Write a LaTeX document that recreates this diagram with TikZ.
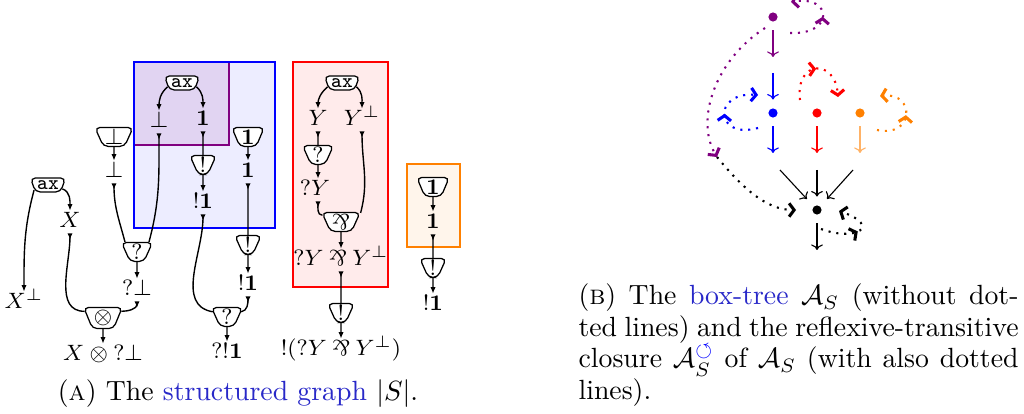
\documentclass[tikz,border=0pt]{standalone}
\usepackage{amsmath,amssymb}
\usepackage{graphicx}
\usetikzlibrary{arrows.meta,shapes.geometric,decorations.markings}
\definecolor{mypurple}{RGB}{128,0,128}
\definecolor{linkblue}{RGB}{40,40,200}
\newcommand{\myparr}{\mathbin{\rotatebox[origin=c]{180}{$\&$}}}
\begin{document}
\begin{tikzpicture}[x=0.36pt,y=-0.36pt,
  lab/.style={inner sep=0.5pt, font=\fontsize{7.9}{9}\selectfont, text height=5.5pt, text depth=1.3pt},
  gate/.style={trapezium, shape border rotate=180, trapezium left angle=65, trapezium right angle=65,
    trapezium stretches=true, draw, fill=white, line width=0.45pt, rounded corners=1.7pt,
    inner sep=0.5pt, minimum width=9.4pt, minimum height=6.8pt, font=\fontsize{7.9}{9}\selectfont},
  axg/.style={gate, minimum width=12.6pt, minimum height=5pt, inner ysep=0.2pt, font=\fontsize{7.3}{8}\ttfamily},
  wire/.style={line width=0.5pt},
  tolab/.style={wire, -{Latex[length=2.3pt,width=1.9pt]}},
  fromlab/.style={wire, {Latex[reversed,length=2.3pt,width=1.9pt]}-},
  bx/.style={line width=0.6pt},
  tdot/.style={circle, inner sep=0pt, minimum size=3.3pt},
  tarr/.style={line width=0.4pt, -{To[length=2pt,width=4.2pt]}},
  dotarr/.style={line width=0.75pt, dash pattern=on 0.75pt off 2.1pt, -{Straight Barb[length=1.8pt,width=4.8pt,line width=1.1pt]}},
  midarr/.style={postaction={decorate}, decoration={markings, mark=at position #1 with {\arrow{Straight Barb[length=1.8pt,width=4.8pt,line width=1.1pt]}}}}
]
\useasboundingbox (0,0) rectangle (1024,414);

% ---------- boxes ----------
\fill[blue!7] (134,62) rectangle (275,228);
\fill[mypurple, fill opacity=0.1] (134,62) rectangle (229,145);
\draw[bx, mypurple] (134,62) rectangle (229,145);
\draw[bx, blue] (134,62) rectangle (275,228);
\draw[bx, red, fill=red!8] (293,62) rectangle (388,287);
\draw[bx, orange, fill=orange!8] (407,164) rectangle (460,247);

% ---------- gates ----------
\node[axg] (ax1) at (48,185) {ax};
\node[axg] (ax2) at (182,83) {ax};
\node[axg] (ax3) at (342,83) {ax};
\node[gate] (botg) at (114,137) {${\perp}$};
\node[gate] (oneg1) at (248,137) {$\mathbf{1}$};
\node[gate] (bang1) at (203,165) {$!$};
\node[gate] (bang2) at (248,245) {$!$};
\node[gate] (q1) at (137,252) {$?$};
\node[gate, minimum width=10pt, minimum height=7.6pt] (tens) at (103,318) {$\otimes$};
\node[gate] (q2) at (227,317) {$?$};
\node[gate] (q3) at (318,155) {$?$};
\node[gate] (par) at (341,222) {$\myparr$};
\node[gate] (bang3) at (341,313) {$!$};
\node[gate] (oneg2) at (433,187) {$\mathbf{1}$};
\node[gate] (bang4) at (433,268) {$!$};

% ---------- labels ----------
\node[lab] (Xp) at (24,303) {$X^\perp$};
\node[lab] (lX) at (70,222) {$X$};
\node[lab] (lbot1) at (114,172) {${\perp}$};
\node[lab] (lbot2) at (159,122) {${\perp}$};
\node[lab] (lone2) at (203,120) {$\mathbf{1}$};
\node[lab] (lbang1) at (203,203) {$!\mathbf{1}$};
\node[lab] (lone1) at (248,172) {$\mathbf{1}$};
\node[lab] (lbang2) at (248,285) {$!\mathbf{1}$};
\node[lab] (lqbot) at (137,290) {${?}{\perp}$};
\node[lab] (ltens) at (103,355) {$X\otimes {?}{\perp}$};
\node[lab] (lq2) at (227,353) {$?!\mathbf{1}$};
\node[lab] (lY) at (318,120) {$Y$};
\node[lab] (lYp) at (362,120) {$Y^\perp$};
\node[lab] (lqY) at (315,190) {$?Y$};
\node[lab] (lpar) at (341,260) {$?Y\myparr Y^\perp$};
\node[lab] (lbang3) at (341,350) {$!(?Y\myparr Y^\perp)$};
\node[lab] (lone3) at (433,223) {$\mathbf{1}$};
\node[lab] (lbang4) at (433,305) {$!\mathbf{1}$};

% ---------- wires ----------
\draw[tolab] (ax1.200) to[out=-105,in=90] (Xp.north);
\draw[tolab] (ax1.-15) to[out=-20,in=90] (lX.north);
\draw[tolab] (botg) -- (lbot1);
\draw[tolab] (ax2.195) to[out=-140,in=90] (lbot2.north);
\draw[tolab] (ax2.-15) to[out=-40,in=90] (lone2.north);
\draw[fromlab] (lone2) -- (bang1);
\draw[tolab] (bang1) -- (lbang1);
\draw[tolab] (oneg1) -- (lone1);
\draw[fromlab] (lone1) -- (bang2);
\draw[tolab] (bang2) -- (lbang2);
\draw[fromlab] (lbot1.south) to[out=-90,in=105] (q1.140);
\draw[fromlab] (lbot2.south) to[out=-90,in=75] (q1.40);
\draw[tolab] (q1) -- (lqbot);
\draw[fromlab] (lX.south) to[out=-90,in=180] (tens.160);
\draw[fromlab] (lqbot.south) to[out=-90,in=0] (tens.20);
\draw[tolab] (tens) -- (ltens);
\draw[fromlab] (lbang1.south) to[out=-90,in=170] (q2.160);
\draw[fromlab] (lbang2.south) to[out=-90,in=10] (q2.20);
\draw[tolab] (q2) -- (lq2);
\draw[tolab] (ax3.195) to[out=-140,in=90] (lY.north);
\draw[tolab] (ax3.-15) to[out=-40,in=90] (lYp.north);
\draw[fromlab] (lY) -- (q3);
\draw[tolab] (q3) -- (q3 |- lqY.north);
\draw[fromlab] (q3 |- lqY.south) to[out=-90,in=180] (par.160);
\draw[fromlab] (lYp.south) to[out=-90,in=75] (par.25);
\draw[tolab] (par) -- (lpar);
\draw[fromlab] (lpar) -- (bang3);
\draw[tolab] (bang3) -- (lbang3);
\draw[tolab] (oneg2) -- (lone3);
\draw[fromlab] (lone3) -- (bang4);
\draw[tolab] (bang4) -- (lbang4);

% ---------- caption A ----------
\node[anchor=base, inner sep=0, font=\fontsize{10}{12}\selectfont] (capA) at (238,400)
  {(\textsc{a}) The \textcolor{linkblue}{structured graph} $|S|$.};

% ---------- box tree ----------
\node[tdot, fill=mypurple] (pd) at (773,17) {};
\node[tdot, fill=blue] (bd) at (773,113) {};
\node[tdot, fill=red] (rd) at (817,113) {};
\node[tdot, fill=orange] (od) at (860,113) {};
\node[tdot, fill=black] (kd) at (817,210) {};

\coordinate (pb1) at (773,57);
\coordinate (pb2) at (773,73);
\coordinate (bk1) at (773,153);
\coordinate (bk2) at (780,170);
\coordinate (rk1) at (817,153);
\coordinate (rk2) at (817,170);
\coordinate (ok1) at (860,153);
\coordinate (ok2) at (853,170);
\coordinate (kz) at (817,250);

\draw[tarr, mypurple, shorten <=3pt] (pd) -- (pb1);
\draw[tarr, blue, shorten >=3pt] (pb2) -- (bd);
\draw[tarr, blue, shorten <=3pt] (bd) -- (bk1);
\draw[tarr, red, shorten <=3pt] (rd) -- (rk1);
\draw[tarr, orange!60, shorten <=3pt] (od) -- (ok1);
\draw[tarr, shorten >=3.5pt] (bk2) -- (kd);
\draw[tarr, shorten >=3pt] (rk2) -- (kd);
\draw[tarr, shorten >=3.5pt] (ok2) -- (kd);
\draw[tarr, shorten <=3pt] (kd) -- (kz);

% loops
\coordinate (pl1) at (790,33);
\coordinate (pl2) at (791,2);
\draw[dotarr, mypurple, midarr=0.5] (pl1) .. controls (835,35) and (832,-5) .. (pl2);
\coordinate (bl1) at (758,128);
\coordinate (bl2) at (758,95);
\draw[dotarr, blue, midarr=0.5] (bl1) .. controls (715,140) and (712,92) .. (bl2);
\coordinate (rl1) at (800,100);
\coordinate (rl2) at (838,97);
\draw[dotarr, red, midarr=0.5] (rl1) .. controls (795,60) and (835,58) .. (rl2);
\coordinate (ol1) at (877,130);
\coordinate (ol2) at (880,96);
\draw[dotarr, orange, midarr=0.5] (ol1) .. controls (915,138) and (915,92) .. (ol2);
\coordinate (kl1) at (821,229);
\coordinate (kl2) at (839,211);
\draw[dotarr, black, midarr=0.52] (kl1) .. controls (856,242) and (882,226) .. (kl2);
\coordinate (pa1) at (765,28);
\coordinate (pa2) at (717,157);
\coordinate (pa3) at (796,210);
\draw[dotarr, mypurple] (pa1) .. controls (715,60) and (695,120) .. (pa2);
\draw[dotarr, black] (pa2) .. controls (740,185) and (765,210) .. (pa3);

% ---------- caption B ----------
\node[anchor=base west, inner sep=0] (capB) at (578,305)
  {\parbox[t]{158.4pt}{\fontsize{10}{11.34}\selectfont
  (\textsc{b}) The \textcolor{linkblue}{box-tree} $\mathcal{A}_S$ (without dot-\linebreak
  ted lines) and the reflexive-transitive\linebreak
  closure $\mathcal{A}_S^{\textcolor{blue}{\circlearrowleft}}$ of $\mathcal{A}_S$ (with also dotted\linebreak
  lines).}};
\end{tikzpicture}
\end{document}
